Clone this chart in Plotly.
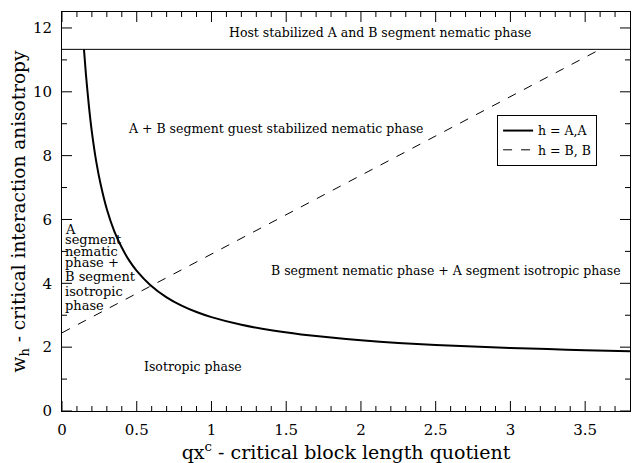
import plotly.graph_objects as go

# Solid curve h = A,A
aa_x = [0.147, 0.16, 0.18, 0.20, 0.23, 0.26, 0.30, 0.35, 0.40, 0.45, 0.50, 0.59, 0.70, 0.80, 0.90, 1.00,
        1.20, 1.40, 1.60, 1.80, 2.00, 2.25, 2.50, 2.75, 3.00, 3.25, 3.50, 3.80]
aa_y = [11.33, 10.55, 9.55, 8.74, 7.79, 7.07, 6.32, 5.63, 5.12, 4.71, 4.39, 3.95, 3.56, 3.30, 3.10, 2.94,
        2.70, 2.53, 2.40, 2.30, 2.22, 2.13, 2.07, 2.02, 1.97, 1.94, 1.90, 1.87]

# Dashed line h = B, B
bb_x = [0.0, 3.60]
bb_y = [2.45, 11.33]

# Horizontal boundary
host_x = [0.0, 3.8]
host_y = [11.33, 11.33]

x_ticks = [0, 0.5, 1, 1.5, 2, 2.5, 3, 3.5]
x_tick_labels = ["0", "0.5", "1", "1.5", "2", "2.5", "3", "3.5"]
y_ticks = [0, 2, 4, 6, 8, 10, 12]
y_tick_labels = ["0", "2", "4", "6", "8", "10", "12"]
x_minor = [0.1, 0.2, 0.3, 0.4, 0.6, 0.7, 0.8, 0.9, 1.1, 1.2, 1.3, 1.4, 1.6, 1.7, 1.8, 1.9,
           2.1, 2.2, 2.3, 2.4, 2.6, 2.7, 2.8, 2.9, 3.1, 3.2, 3.3, 3.4, 3.6, 3.7]
y_minor = [1, 3, 5, 7, 9, 11]

X_RANGE = [0, 3.8]
Y_RANGE = [0, 12.5]

left_lines = ["A", "segment", "nematic", "phase +", "B segment", "isotropic", "phase"]
left_line_y = [5.70, 5.36, 5.01, 4.65, 4.21, 3.74, 3.29]

FONT = "DejaVu Serif"

fig = go.Figure()
fig.add_trace(go.Scatter(x=host_x, y=host_y, mode="lines", line=dict(color="black", width=1),
                         showlegend=False, hoverinfo="skip"))
fig.add_trace(go.Scatter(x=aa_x, y=aa_y, mode="lines", name="h = A,A",
                         line=dict(color="black", width=2, shape="spline", smoothing=0.6)))
fig.add_trace(go.Scatter(x=bb_x, y=bb_y, mode="lines", name="h = B, B",
                         line=dict(color="black", width=1, dash="dash")))

ann = [
    dict(x=2.13, y=11.87, text="Host stabilized A and B segment nematic phase"),
    dict(x=1.43, y=8.84, text="A + B segment guest stabilized nematic phase"),
    dict(x=2.57, y=4.40, text="B segment nematic phase + A segment isotropic phase"),
    dict(x=0.875, y=1.38, text="Isotropic phase"),
]
for a in ann:
    fig.add_annotation(x=a["x"], y=a["y"], text=a["text"], showarrow=False,
                       font=dict(family=FONT, size=12.5, color="black"))
for t, yv in zip(left_lines, left_line_y):
    fig.add_annotation(x=0.005, y=yv, text=t, showarrow=False, xanchor="left",
                       font=dict(family=FONT, size=13, color="black"))

# inside tick marks on all four sides
tick_line = dict(color="black", width=1)
for v in x_ticks + x_minor:
    L = 10 if v in x_ticks else 5
    fig.add_shape(type="line", xref="x", yref="y", x0=v, x1=v, ysizemode="pixel",
                  yanchor=Y_RANGE[0], y0=0, y1=L, line=tick_line, layer="above")
    fig.add_shape(type="line", xref="x", yref="y", x0=v, x1=v, ysizemode="pixel",
                  yanchor=Y_RANGE[1], y0=0, y1=-L, line=tick_line, layer="above")
for v in y_ticks + y_minor:
    L = 10 if v in y_ticks else 5
    fig.add_shape(type="line", xref="x", yref="y", y0=v, y1=v, xsizemode="pixel",
                  xanchor=X_RANGE[0], x0=0, x1=L, line=tick_line, layer="above")
    fig.add_shape(type="line", xref="x", yref="y", y0=v, y1=v, xsizemode="pixel",
                  xanchor=X_RANGE[1], x0=0, x1=-L, line=tick_line, layer="above")

axis_common = dict(showgrid=False, zeroline=False, showline=True, linecolor="black", linewidth=1,
                   mirror=True, ticks="", tickfont=dict(family=FONT, size=15, color="black"))

fig.update_layout(
    font=dict(family=FONT, color="black"),
    xaxis=dict(range=X_RANGE, tickvals=x_ticks, ticktext=x_tick_labels, ticklabelstandoff=5,
               title=dict(text="qx<sup>c</sup> - critical block length quotient",
                          font=dict(family=FONT, size=19, color="black"), standoff=3),
               **axis_common),
    yaxis=dict(range=Y_RANGE, tickvals=y_ticks, ticktext=y_tick_labels, ticklabelstandoff=6,
               title=dict(text="w<sub>h</sub> - critical interaction anisotropy",
                          font=dict(family=FONT, size=18.5, color="black"), standoff=2),
               **axis_common),
    width=634, height=463,
    margin=dict(l=62, r=4, t=12, b=52),
    plot_bgcolor="white", paper_bgcolor="white",
    legend=dict(x=0.766, y=0.742, xanchor="left", yanchor="top",
                bordercolor="black", borderwidth=1, bgcolor="white",
                font=dict(family=FONT, size=12.5, color="black"),
                tracegroupgap=0, itemwidth=30),
)

fig.write_html("out.html")
